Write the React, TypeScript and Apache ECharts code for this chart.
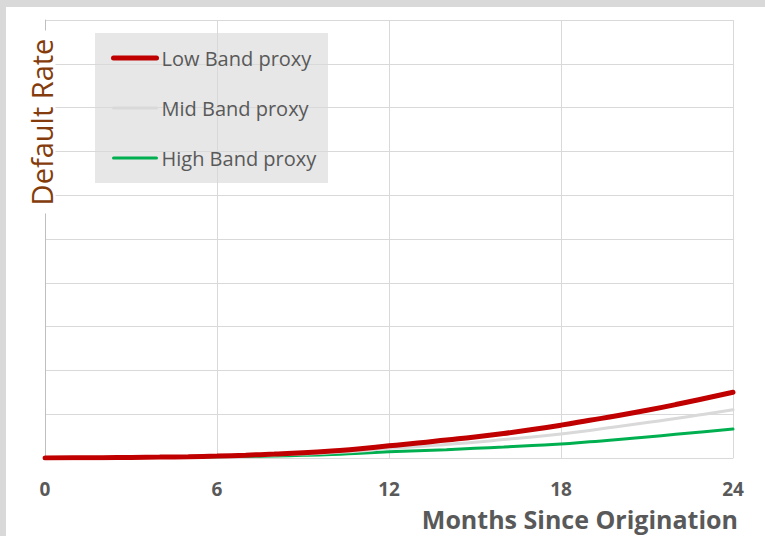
import React, { useEffect, useRef } from "react";
import * as echarts from "echarts";

// Months since origination (monthly steps)
const months = [0, 1, 2, 3, 4, 5, 6, 7, 8, 9, 10, 11, 12, 13, 14, 15, 16, 17, 18, 19, 20, 21, 22, 23, 24];

// Cumulative default rate per band
const lowBand = [0, 0.003, 0.007, 0.013, 0.02, 0.03, 0.045, 0.065, 0.09, 0.12, 0.16, 0.21, 0.28, 0.34, 0.41, 0.48, 0.56, 0.65, 0.75, 0.86, 0.97, 1.09, 1.22, 1.36, 1.5];
const midBand = [0, 0.002, 0.005, 0.01, 0.016, 0.024, 0.035, 0.05, 0.068, 0.09, 0.12, 0.16, 0.22, 0.26, 0.31, 0.36, 0.42, 0.48, 0.55, 0.63, 0.72, 0.81, 0.9, 1.0, 1.1];
const highBand = [0, 0.002, 0.005, 0.009, 0.014, 0.02, 0.028, 0.037, 0.048, 0.06, 0.08, 0.11, 0.14, 0.165, 0.19, 0.22, 0.25, 0.285, 0.32, 0.37, 0.42, 0.48, 0.54, 0.6, 0.66];

const seriesNames = ["Low Band proxy", "Mid Band proxy", "High Band proxy"];
const seriesColors = ["#c00000", "#d9d9d9", "#00b050"];
const seriesWidths = [5, 3, 3];

const xTitle = "Months Since Origination";
const yTitle = "Default Rate";

const FONT = '"Open Sans", "Noto Sans", sans-serif';

export default function App() {
  const ref = useRef<HTMLDivElement>(null);

  useEffect(() => {
    if (!ref.current) return;
    const chart = echarts.init(ref.current, undefined, { renderer: "svg" });
    const bands = [lowBand, midBand, highBand];

    chart.setOption({
      animation: false,
      backgroundColor: "#ffffff",
      textStyle: { fontFamily: FONT },
      grid: { left: 45, right: 32, top: 20, bottom: 78, containLabel: false },
      xAxis: {
        type: "value",
        min: 0,
        max: 24,
        interval: 6,
        axisLine: { show: true, lineStyle: { color: "#d9d9d9", width: 1 } },
        axisTick: { show: false },
        axisLabel: {
          color: "#595959",
          fontWeight: "bold",
          fontSize: 19,
          fontFamily: FONT,
          margin: 21,
        },
        splitLine: { show: true, lineStyle: { color: "#d9d9d9", width: 1 } },
      },
      yAxis: {
        type: "value",
        min: 0,
        max: 10,
        interval: 1,
        axisLine: { show: true, lineStyle: { color: "#bfbfbf", width: 1 } },
        axisTick: { show: false },
        axisLabel: { show: false },
        splitLine: { show: true, lineStyle: { color: "#d9d9d9", width: 1 } },
      },
      legend: {
        orient: "vertical",
        left: 95,
        top: 33,
        padding: [15, 16, 15, 16],
        itemGap: 30,
        itemWidth: 43,
        itemHeight: 20,
        itemStyle: { opacity: 0 },
        data: seriesNames.map((name, i) => ({
          name,
          lineStyle: { color: seriesColors[i], width: seriesWidths[i], cap: "round" },
        })),
        textStyle: { color: "#595959", fontSize: 20, lineHeight: 20, fontFamily: FONT },
      },
      graphic: [
        { type: "rect", shape: { x: 0, y: 0, width: 765, height: 7 }, style: { fill: "#d9d9d9" }, silent: true },
        { type: "rect", shape: { x: 0, y: 0, width: 6, height: 536 }, style: { fill: "#d9d9d9" }, silent: true },
        {
          type: "rect",
          shape: { x: 95, y: 33, width: 233, height: 150 },
          style: { fill: "#e7e7e7" },
          z: -1,
          silent: true,
        },
        {
          type: "text",
          x: 41,
          y: 122,
          rotation: Math.PI / 2,
          z: 10,
          silent: true,
          style: {
            text: yTitle,
            fill: "#843c0c",
            font: `29px ${FONT}`,
            align: "center",
            verticalAlign: "middle",
            backgroundColor: "#ffffff",
            padding: [0, 8],
          },
        },
        {
          type: "text",
          x: 738,
          y: 519,
          z: 10,
          silent: true,
          style: {
            text: xTitle,
            fill: "#595959",
            font: `bold 25px ${FONT}`,
            align: "right",
            verticalAlign: "middle",
          },
        },
      ],
      series: bands.map((vals, i) => ({
        name: seriesNames[i],
        type: "line",
        smooth: true,
        showSymbol: false,
        symbol: "none",
        data: months.map((m, k) => [m, vals[k]]),
        lineStyle: { color: seriesColors[i], width: seriesWidths[i], cap: "round" },
        itemStyle: { color: seriesColors[i] },
        z: 3 - i,
      })),
    });

    return () => chart.dispose();
  }, []);

  return (
    <div
      ref={ref}
      style={{ position: "fixed", left: 0, top: 0, width: 765, height: 536 }}
    />
  );
}
